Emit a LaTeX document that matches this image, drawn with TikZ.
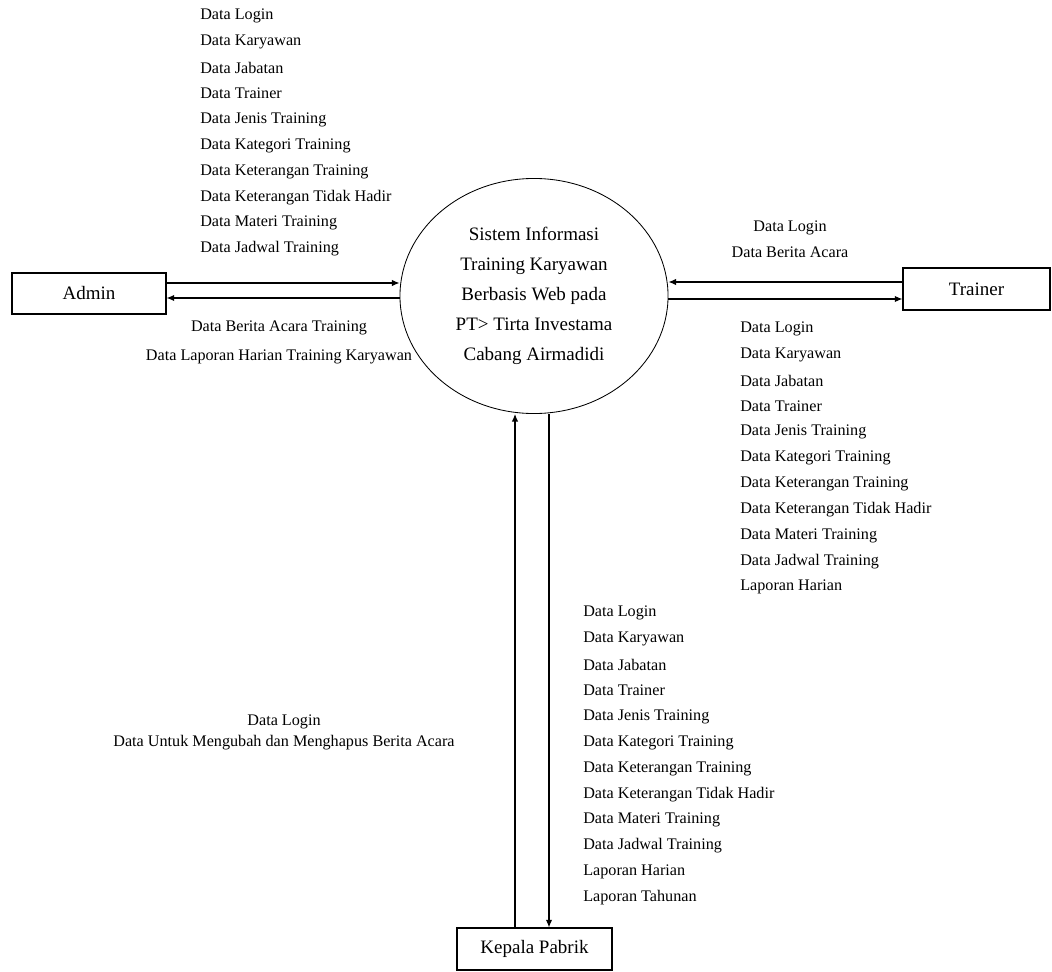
\documentclass[tikz,border=0pt]{standalone}
\usepackage{fontspec}
\setmainfont{Liberation Serif}
\usetikzlibrary{shapes.geometric,arrows.meta}

\newcommand\listSize{\fontsize{11.5}{14}\selectfont}
\newcommand\boxSize{\fontsize{13.5}{16}\selectfont}

\tikzset{
	entity/.style={draw,rectangle,line width=0.8pt,inner sep=0pt,font=\boxSize},
	process/.style={draw,ellipse,line width=0.6pt,minimum width=6.7cm,minimum height=5.875cm,
		align=center,font=\fontsize{13.5}{21.3}\selectfont},
	flow/.style={->,line width=0.8pt},
	flowtext/.style={anchor=west,inner sep=0pt,font=\listSize},
	notetext/.style={align=center,inner sep=0pt}
}

\begin{document}
\begin{tikzpicture}[x=0.025cm,y=-0.025cm,every path/.style={>={Latex[length=1.9mm,width=1.6mm]}}]
		\useasboundingbox (0,0) rectangle (1052,972);
	
		% draw process
		\node (sys) at (534,296) [process] {Sistem Informasi\\Training Karyawan\\Berbasis Web pada\\PT> Tirta Investama\\Cabang Airmadidi};
		
		% draw entities
		\node (admin) at (89,293.5) [entity,minimum width=3.85cm,minimum height=1.025cm] {Admin};
		\node (trainer) at (976.5,289) [entity,minimum width=3.675cm,minimum height=1.05cm] {Trainer};
		\node (kepala) at (534.5,949) [entity,minimum width=3.875cm,minimum height=1.05cm] {Kepala Pabrik};
		
		% draw flows
		\draw[flow] (admin.east |- 0,283) -- (sys.west |- 0,283);
		\draw[flow] (sys.west |- 0,298) -- (admin.east |- 0,298);
		\draw[flow] (trainer.west |- 0,282) -- (sys.east |- 0,282);
		\draw[flow] (sys.east |- 0,299) -- (trainer.west |- 0,299);
		\draw[flow] (kepala.north -| 515,0) -- (sys.south -| 515,0);
		\draw[flow] (sys.south -| 549,0) -- (kepala.north -| 549,0);
		
		% draw admin data
		\foreach \t [count=\i from 0] in {Data Login,Data Karyawan,Data Jabatan,Data Trainer,Data Jenis Training,Data Kategori Training,Data Keterangan Training,Data Keterangan Tidak Hadir,Data Materi Training,Data Jadwal Training}
		{
			\node (a\i) at (200,16 + \i * 25.9) [flowtext] {\t};
		}
		
		% draw trainer data
		\foreach \t [count=\i from 0] in {Data Login,Data Karyawan,Data Jabatan,Data Trainer,Data Jenis Training,Data Kategori Training,Data Keterangan Training,Data Keterangan Tidak Hadir,Data Materi Training,Data Jadwal Training,Laporan Harian}
		{
			\node (t\i) at (740,329 + \i * 25.8) [flowtext] {\t};
		}
		
		% draw kepala pabrik data
		\foreach \t [count=\i from 0] in {Data Login,Data Karyawan,Data Jabatan,Data Trainer,Data Jenis Training,Data Kategori Training,Data Keterangan Training,Data Keterangan Tidak Hadir,Data Materi Training,Data Jadwal Training,Laporan Harian,Laporan Tahunan}
		{
			\node (k\i) at (583,613 + \i * 25.9) [flowtext] {\t};
		}
		
		% draw text nodes
		\node (adminback) at (279,342.5) [notetext,font=\fontsize{11.5}{20.3}\selectfont] {Data Berita Acara Training\\Data Laporan Harian Training Karyawan};
		\node (trainerin) at (790,239) [notetext,font=\fontsize{11.5}{18.5}\selectfont] {Data Login\\Data Berita Acara};
		\node (kepalain) at (284,732) [notetext,font=\fontsize{11.5}{15}\selectfont] {Data Login\\Data Untuk Mengubah dan Menghapus Berita Acara};
	\end{tikzpicture}
\end{document}
